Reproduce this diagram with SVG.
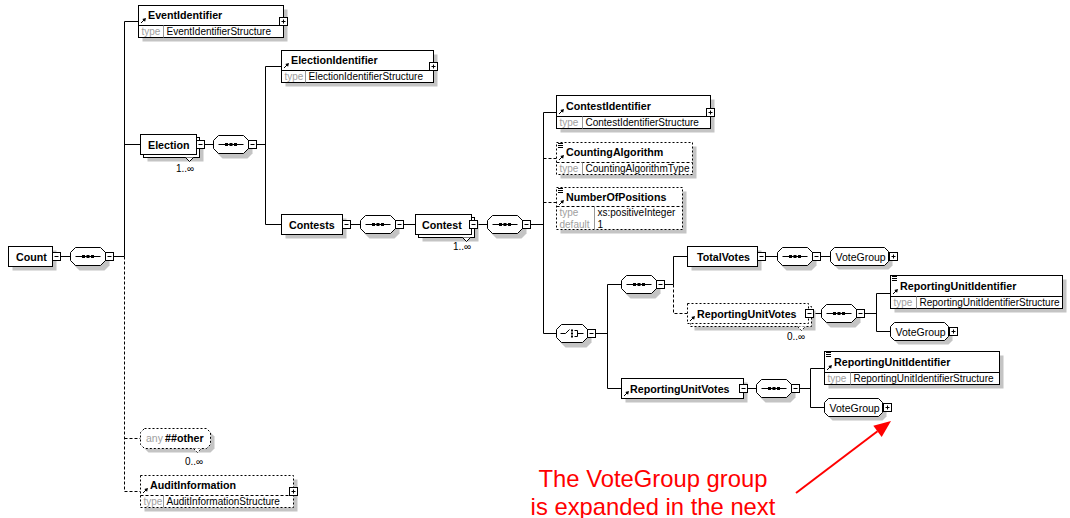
<svg xmlns="http://www.w3.org/2000/svg" xmlns:xlink="http://www.w3.org/1999/xlink" width="1070" height="518" viewBox="0 0 1070 518">
<style>
  .sh{fill:#c4c4c4;stroke:none}
  .bx{fill:#fff;stroke:#000;stroke-width:1}
  .db{fill:#fff;stroke:#000;stroke-width:1;stroke-dasharray:2 2}
  .ln{fill:none;stroke:#000;stroke-width:1}
  .dl{fill:none;stroke:#000;stroke-width:1;stroke-dasharray:3 2}
  .gl{fill:none;stroke:#999;stroke-width:1}
  .nm{font-family:"Liberation Sans",Arial,sans-serif;font-size:10.7px;font-weight:bold;fill:#000}
  .tx{font-family:"Liberation Sans",Arial,sans-serif;font-size:10px;fill:#000}
  .lb{fill:#a0a0a0}
  .oc{font-family:"Liberation Sans",Arial,sans-serif;font-size:10px;fill:#000;text-anchor:middle}
  .note{font-family:"Liberation Sans",Arial,sans-serif;font-size:23.8px;fill:#ff0000;text-anchor:middle}
</style>
<defs>
  <!-- expand / collapse toggles -->
  <g id="plus"><rect x="0" y="0" width="8" height="8" fill="#fff" stroke="#000"/><path d="M2,4H6M4,2V6" stroke="#000" fill="none"/></g>
  <g id="minus"><rect x="0" y="0" width="8" height="8" fill="#fff" stroke="#000"/><path d="M2,4H6" stroke="#000" fill="none"/></g>
  <!-- reference arrow and simple-content markers -->
  <g id="ref"><path d="M0.5,5.5L3.5,2.5" stroke="#000" fill="none"/><path d="M5.5,0.5L1.8,1.4L4.6,4.2Z" fill="#000"/></g>
  <g id="simple"><path d="M0,0.5H5M0,2.5H5M0,4.5H5" stroke="#000" fill="none"/></g>
  <!-- sequence compositor -->
  <g id="seq">
    <path class="sh" d="M9,-5H34L39,0V9L34,14H9L4,9V0Z"/>
    <path class="bx" d="M5,-9H30L35,-4V4L30,9H5L0,4V-4Z"/>
    <path class="ln" d="M5,0H30"/>
    <rect x="11.5" y="-1.5" width="3" height="3" fill="#000"/>
    <rect x="16" y="-1.5" width="3" height="3" fill="#000"/>
    <rect x="20.5" y="-1.5" width="3" height="3" fill="#000"/>
    <use xlink:href="#minus" x="35" y="-4"/>
  </g>
  <!-- choice compositor -->
  <g id="choice">
    <path class="sh" d="M9,-5H30L35,0V9L30,14H9L4,9V0Z"/>
    <path class="bx" d="M5,-9H26L31,-4V4L26,9H5L0,4V-4Z"/>
    <path class="ln" d="M4,0H9L13,-4M18,-3H21V3H18M21,0H27"/>
    <rect x="14.5" y="-4" width="2" height="2" fill="#000"/>
    <rect x="14.5" y="-1" width="2" height="2" fill="#000"/>
    <rect x="14.5" y="2" width="2" height="2" fill="#000"/>
    <use xlink:href="#minus" x="31" y="-4"/>
  </g>
  <!-- group reference -->
  <g id="vg">
    <path class="sh" d="M8,-5H58L62,-1V9L58,13H8L4,9V-1Z"/>
    <path class="bx" d="M4,-9H54L58,-5V5L54,9H4L0,5V-5Z"/>
    <text class="tx" x="5" y="4" style="font-size:10.5px">VoteGroup</text>
    <use xlink:href="#plus" x="59" y="-4"/>
  </g>
</defs>

<rect x="0" y="0" width="1070" height="518" fill="#fff"/>

<!-- connectors -->
<g id="connectors">
  <path class="ln" d="M60.5,256.5H70.5M113.5,256.5H124.5M138.5,21.5H124.5V256.5M124.5,144.5H140.5"/>
  <path class="dl" d="M124.5,256.5V491.5H140.5M124.5,438.5H140.5"/>
  <path class="ln" d="M204.5,144.5H213.5M256.5,144.5H265.5M281.5,66.5H265.5V224.5H281.5"/>
  <path class="ln" d="M350.5,224.5H360.5M403.5,224.5H415.5M477.5,224.5H487.5M530.5,224.5H543.5"/>
  <path class="ln" d="M556.5,112.5H543.5V333.5H556.5"/>
  <path class="dl" d="M543.5,158.5H556.5M543.5,202.5H556.5"/>
  <path class="ln" d="M595.5,333.5H607.5M621.5,284.5H607.5V388.5H621.5M664.5,284.5H673.5M687.5,256.5H673.5V284.5"/>
  <path class="dl" d="M673.5,284.5V313.5H687.5"/>
  <path class="ln" d="M765.5,256.5H777.5M820.5,256.5H830.5"/>
  <path class="ln" d="M813.5,313.5H821.5M864.5,313.5H876.5M890.5,293.5H876.5V331.5H890.5"/>
  <path class="ln" d="M747.5,388.5H756.5M799.5,388.5H810.5M824.5,368.5H810.5V407.5H824.5"/>
</g>

<!-- root element -->
<g id="count">
  <rect class="sh" x="12.5" y="250.5" width="44" height="20"/>
  <rect class="bx" x="8.5" y="246.5" width="44" height="20"/>
  <text class="nm" x="16" y="260.5">Count</text>
  <use xlink:href="#minus" x="52.5" y="252.5"/>
</g>
<g id="count-seq"><use xlink:href="#seq" transform="translate(70.5,256.5)"/></g>

<g id="event-identifier">
  <rect class="sh" x="142.5" y="9.5" width="145" height="32"/>
  <rect class="bx" x="138.5" y="5.5" width="145" height="32"/>
  <path class="ln" d="M138.5,25.5H283.5"/>
  <path class="gl" d="M163.5,25.5V37.5"/>
  <use xlink:href="#ref" transform="translate(140.5,17.5)"/>
  <text class="nm" x="148" y="19">EventIdentifier</text>
  <text class="tx lb" x="141.5" y="35">type</text>
  <text class="tx" x="166.5" y="35">EventIdentifierStructure</text>
  <use xlink:href="#plus" x="279.5" y="17.5"/>
</g>

<g id="election">
  <rect class="sh" x="147.5" y="141.5" width="56" height="20"/>
  <rect class="bx" x="143.5" y="137.5" width="56" height="20"/>
  <path class="bx" d="M185.5,157.5L189.5,161.5L193.5,157.5"/>
  <rect class="bx" x="140.5" y="134.5" width="56" height="20"/>
  <text class="nm" x="148" y="148.5">Election</text>
  <use xlink:href="#minus" x="196.5" y="140.5"/>
  <text class="oc" x="185" y="171.5">1..∞</text>
</g>
<g id="election-seq"><use xlink:href="#seq" transform="translate(213.5,144.5)"/></g>

<g id="election-identifier">
  <rect class="sh" x="285.5" y="54.5" width="152" height="32"/>
  <rect class="bx" x="281.5" y="50.5" width="152" height="32"/>
  <path class="ln" d="M281.5,70.5H433.5"/>
  <path class="gl" d="M305.5,70.5V82.5"/>
  <use xlink:href="#ref" transform="translate(283.5,62.5)"/>
  <text class="nm" x="291" y="64">ElectionIdentifier</text>
  <text class="tx lb" x="284.5" y="80">type</text>
  <text class="tx" x="308.5" y="80">ElectionIdentifierStructure</text>
  <use xlink:href="#plus" x="429.5" y="62.5"/>
</g>

<g id="contests">
  <rect class="sh" x="285.5" y="218.5" width="61" height="20"/>
  <rect class="bx" x="281.5" y="214.5" width="61" height="20"/>
  <text class="nm" x="289" y="228.5">Contests</text>
  <use xlink:href="#minus" x="342.5" y="220.5"/>
</g>
<g id="contests-seq"><use xlink:href="#seq" transform="translate(360.5,224.5)"/></g>

<g id="contest">
  <rect class="sh" x="422.5" y="221.5" width="56" height="20"/>
  <rect class="bx" x="418.5" y="217.5" width="56" height="20"/>
  <path class="bx" d="M462.5,237.5L466.5,241.5L470.5,237.5"/>
  <rect class="bx" x="415.5" y="214.5" width="56" height="20"/>
  <text class="nm" x="422" y="228.5">Contest</text>
  <use xlink:href="#minus" x="469.5" y="220.5"/>
  <text class="oc" x="462" y="250">1..∞</text>
</g>
<g id="contest-seq"><use xlink:href="#seq" transform="translate(487.5,224.5)"/></g>

<g id="contest-identifier">
  <rect class="sh" x="560.5" y="99.5" width="154" height="33"/>
  <rect class="bx" x="556.5" y="95.5" width="154" height="33"/>
  <path class="ln" d="M556.5,116.5H710.5"/>
  <path class="gl" d="M582.5,116.5V128.5"/>
  <use xlink:href="#ref" transform="translate(558.5,108.5)"/>
  <text class="nm" x="566" y="110">ContestIdentifier</text>
  <text class="tx lb" x="559.5" y="126">type</text>
  <text class="tx" x="585.5" y="126">ContestIdentifierStructure</text>
  <use xlink:href="#plus" x="706.5" y="108.5"/>
</g>

<g id="counting-algorithm">
  <rect class="sh" x="560.5" y="146.5" width="136" height="32"/>
  <rect class="db" x="556.5" y="142.5" width="136" height="32"/>
  <path class="dl" d="M556.5,162.5H692.5"/>
  <path class="gl" d="M582.5,162.5V174.5"/>
  <use xlink:href="#simple" transform="translate(558,143)"/>
  <use xlink:href="#ref" transform="translate(558.5,154.5)"/>
  <text class="nm" x="566" y="156">CountingAlgorithm</text>
  <text class="tx lb" x="559.5" y="172">type</text>
  <text class="tx" x="585.5" y="172">CountingAlgorithmType</text>
</g>

<g id="number-of-positions">
  <rect class="sh" x="560.5" y="191.5" width="126" height="42"/>
  <rect class="db" x="556.5" y="187.5" width="126" height="42"/>
  <path class="dl" d="M556.5,206.5H682.5"/>
  <path class="gl" d="M594.5,206.5V229.5"/>
  <use xlink:href="#simple" transform="translate(558,188)"/>
  <use xlink:href="#ref" transform="translate(558.5,199.5)"/>
  <text class="nm" x="566" y="201">NumberOfPositions</text>
  <text class="tx lb" x="559.5" y="216">type</text>
  <text class="tx" x="597.5" y="216">xs:positiveInteger</text>
  <text class="tx lb" x="559.5" y="227.5">default</text>
  <text class="tx" x="597.5" y="227.5">1</text>
</g>

<g id="contest-choice"><use xlink:href="#choice" transform="translate(556.5,333.5)"/></g>
<g id="inner-seq"><use xlink:href="#seq" transform="translate(621.5,284.5)"/></g>

<g id="total-votes">
  <rect class="sh" x="691.5" y="250.5" width="70" height="20"/>
  <rect class="bx" x="687.5" y="246.5" width="70" height="20"/>
  <text class="nm" x="697" y="260.5">TotalVotes</text>
  <use xlink:href="#minus" x="757.5" y="252.5"/>
</g>
<g id="total-votes-seq"><use xlink:href="#seq" transform="translate(777.5,256.5)"/></g>
<g id="total-votes-group"><use xlink:href="#vg" transform="translate(830.5,256.5)"/></g>

<g id="reporting-unit-votes-ref">
  <rect class="sh" x="694.5" y="310.5" width="121" height="20"/>
  <rect class="db" x="690.5" y="306.5" width="121" height="20"/>
  <path class="db" d="M797.5,326.5L801.5,330.5L805.5,326.5"/>
  <rect class="db" x="687.5" y="303.5" width="121" height="20"/>
  <use xlink:href="#ref" transform="translate(689.5,315.5)"/>
  <text class="nm" x="697" y="317.5">ReportingUnitVotes</text>
  <use xlink:href="#minus" x="805.5" y="309.5"/>
  <text class="oc" x="796" y="339.5">0..∞</text>
</g>
<g id="ruv-ref-seq"><use xlink:href="#seq" transform="translate(821.5,313.5)"/></g>

<g id="reporting-unit-identifier-1">
  <rect class="sh" x="894.5" y="279.5" width="172" height="33"/>
  <rect class="bx" x="890.5" y="275.5" width="172" height="33"/>
  <path class="ln" d="M890.5,296.5H1062.5"/>
  <path class="gl" d="M916.5,296.5V308.5"/>
  <use xlink:href="#simple" transform="translate(892,276)"/>
  <use xlink:href="#ref" transform="translate(892.5,288.5)"/>
  <text class="nm" x="900" y="290">ReportingUnitIdentifier</text>
  <text class="tx lb" x="893.5" y="306">type</text>
  <text class="tx" x="919.5" y="306">ReportingUnitIdentifierStructure</text>
</g>
<g id="ruv-ref-group"><use xlink:href="#vg" transform="translate(890.5,331.5)"/></g>

<g id="reporting-unit-votes">
  <rect class="sh" x="625.5" y="382.5" width="122" height="20"/>
  <rect class="bx" x="621.5" y="378.5" width="122" height="20"/>
  <use xlink:href="#ref" transform="translate(623.5,390.5)"/>
  <text class="nm" x="630" y="392.5">ReportingUnitVotes</text>
  <use xlink:href="#minus" x="739.5" y="384.5"/>
</g>
<g id="ruv-seq"><use xlink:href="#seq" transform="translate(756.5,388.5)"/></g>

<g id="reporting-unit-identifier-2">
  <rect class="sh" x="828.5" y="355.5" width="175" height="33"/>
  <rect class="bx" x="824.5" y="351.5" width="175" height="33"/>
  <path class="ln" d="M824.5,372.5H999.5"/>
  <path class="gl" d="M850.5,372.5V384.5"/>
  <use xlink:href="#simple" transform="translate(826,352)"/>
  <use xlink:href="#ref" transform="translate(826.5,364.5)"/>
  <text class="nm" x="834" y="366">ReportingUnitIdentifier</text>
  <text class="tx lb" x="827.5" y="382">type</text>
  <text class="tx" x="853.5" y="382">ReportingUnitIdentifierStructure</text>
</g>
<g id="ruv-group"><use xlink:href="#vg" transform="translate(824.5,407.5)"/></g>

<g id="any-other">
  <path class="sh" d="M148.5,432.5H210.5L214.5,436.5V448.5L210.5,452.5H148.5L144.5,448.5V436.5Z"/>
  <path class="db" d="M144.5,428.5H206.5L210.5,432.5V444.5L206.5,448.5H144.5L140.5,444.5V432.5Z"/>
  <path class="db" d="M193.5,448.5L197.5,452.5L201.5,448.5"/>
  <text class="tx lb" x="146" y="442" style="font-size:10.5px">any</text>
  <text class="nm" x="165" y="442">##other</text>
  <text class="oc" x="194" y="465">0..∞</text>
</g>

<g id="audit-information">
  <rect class="sh" x="144.5" y="479.5" width="153" height="32"/>
  <rect class="db" x="140.5" y="475.5" width="153" height="32"/>
  <path class="dl" d="M140.5,495.5H293.5"/>
  <path class="gl" d="M163.5,495.5V507.5"/>
  <use xlink:href="#ref" transform="translate(142.5,487.5)"/>
  <text class="nm" x="150" y="489">AuditInformation</text>
  <text class="tx lb" x="143.5" y="505">type</text>
  <text class="tx" x="166.5" y="505">AuditInformationStructure</text>
  <use xlink:href="#plus" x="289.5" y="487.5"/>
</g>

<!-- annotation -->
<g id="annotation">
  <text class="note" x="653" y="487">The VoteGroup group</text>
  <text class="note" x="653" y="515">is expanded in the next</text>
  <path d="M796,493L877.5,431.3" stroke="#ff0000" stroke-width="2" fill="none"/>
  <path d="M891,421L881.7,436.9L873.3,425.7Z" fill="#ff0000"/>
</g>
</svg>
